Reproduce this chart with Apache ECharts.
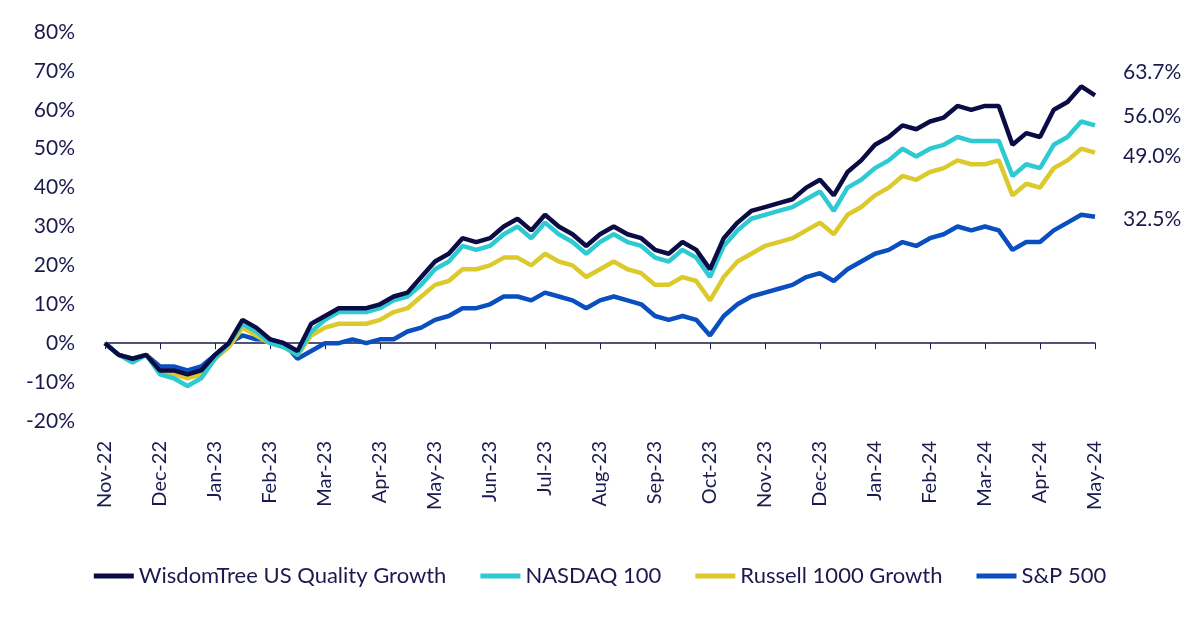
<!DOCTYPE html>
<html>
<head>
<meta charset="utf-8" />
<script src="https://cdn.jsdelivr.net/npm/echarts@6/dist/echarts.min.js"></script>
<style>
  html, body { margin: 0; background: #fff; }
  #chart { width: 1200px; height: 642px; }
</style>
</head>
<body>
<div id="chart"></div>
<script>
  // month tick labels, one every month
  var months = ['Nov-22', 'Dec-22', 'Jan-23', 'Feb-23', 'Mar-23', 'Apr-23', 'May-23', 'Jun-23', 'Jul-23',
    'Aug-23', 'Sep-23', 'Oct-23', 'Nov-23', 'Dec-23', 'Jan-24', 'Feb-24', 'Mar-24', 'Apr-24', 'May-24']

  // cumulative returns (%), sampled about weekly (4 points per month)
  var wisdomTree = [0, -3, -4, -3, -7, -7, -8, -7, -3, 0, 6, 4, 1, 0, -2, 5, 7, 9, 9, 9, 10, 12, 13, 17, 21, 23, 27, 26, 27, 30, 32, 29, 33, 30, 28, 25, 28, 30, 28, 27, 24, 23, 26, 24, 19, 27, 31, 34, 35, 36, 37, 40, 42, 38, 44, 47, 51, 53, 56, 55, 57, 58, 61, 60, 61, 61, 51, 54, 53, 60, 62, 66, 63.7]
  var nasdaq = [0, -3, -5, -3, -8, -9, -11, -9, -4, 0, 5, 3, 0, -1, -3, 3, 6, 8, 8, 8, 9, 11, 12, 15, 19, 21, 25, 24, 25, 28, 30, 27, 31, 28, 26, 23, 26, 28, 26, 25, 22, 21, 24, 22, 17, 25, 29, 32, 33, 34, 35, 37, 39, 34, 40, 42, 45, 47, 50, 48, 50, 51, 53, 52, 52, 52, 43, 46, 45, 51, 53, 57, 56]
  var russell = [0, -3, -4, -3, -7, -8, -9, -8, -4, -1, 4, 2, 0, -1, -3, 2, 4, 5, 5, 5, 6, 8, 9, 12, 15, 16, 19, 19, 20, 22, 22, 20, 23, 21, 20, 17, 19, 21, 19, 18, 15, 15, 17, 16, 11, 17, 21, 23, 25, 26, 27, 29, 31, 28, 33, 35, 38, 40, 43, 42, 44, 45, 47, 46, 46, 47, 38, 41, 40, 45, 47, 50, 49]
  var sp500 = [0, -3, -4, -3, -6, -6, -7, -6, -3, 0, 2, 1, 1, 0, -4, -2, 0, 0, 1, 0, 1, 1, 3, 4, 6, 7, 9, 9, 10, 12, 12, 11, 13, 12, 11, 9, 11, 12, 11, 10, 7, 6, 7, 6, 2, 7, 10, 12, 13, 14, 15, 17, 18, 16, 19, 21, 23, 24, 26, 25, 27, 28, 30, 29, 30, 29, 24, 26, 26, 29, 31, 33, 32.5]

  var names = ['WisdomTree US Quality Growth', 'NASDAQ 100', 'Russell 1000 Growth', 'S&P 500']
  var endLabels = ['63.7%', '56.0%', '49.0%', '32.5%']
  var colors = ['#0b0c45', '#2ecad3', '#dcc92c', '#0a4fbf']
  var labelShift = [-23, -9, 4, 2]

  function pairs(arr) {
    return arr.map(function (v, i) { return [i / 4, v] })
  }

  var txt = '#1a1a4e'
  var font = 'Lato'
  var series = [wisdomTree, nasdaq, russell, sp500].map(function (d, k) {
    return {
      name: names[k],
      type: 'line',
      data: pairs(d),
      showSymbol: false,
      z: 10 - k,
      lineStyle: { width: 4.5, color: colors[k] },
      itemStyle: { color: colors[k] },
      endLabel: {
        show: true,
        formatter: endLabels[k],
        color: txt,
        fontSize: 21,
        fontFamily: font,
        offset: [20, labelShift[k]]
      }
    }
  })

  var chart = echarts.init(document.getElementById('chart'))
  chart.setOption({
    animation: false,
    color: colors,
    textStyle: { fontFamily: font },
    grid: { left: 105, right: 105, top: 32, bottom: 221 },
    legend: {
      bottom: 50,
      left: 'center',
      itemWidth: 40,
      itemHeight: 5,
      itemGap: 34,
      icon: 'rect',
      textStyle: { color: txt, fontSize: 22, fontFamily: font },
      data: names
    },
    xAxis: [
      {
        type: 'value', min: 0, max: 18, interval: 1,
        axisLine: { onZero: true, lineStyle: { color: txt, width: 1.5 } },
        axisTick: { show: true, length: 6, lineStyle: { color: txt } },
        axisLabel: { show: false },
        splitLine: { show: false }
      },
      {
        type: 'value', min: 0, max: 18, interval: 1, position: 'bottom',
        axisLine: { show: false, onZero: false },
        axisTick: { show: false },
        splitLine: { show: false },
        axisLabel: {
          rotate: 90, margin: 20, color: txt, fontSize: 20, fontFamily: font,
          formatter: function (v) { return months[Math.round(v)] }
        }
      }
    ],
    yAxis: {
      type: 'value', min: -20, max: 80, interval: 10,
      axisLine: { show: false },
      axisTick: { show: false },
      splitLine: { show: false },
      axisLabel: { margin: 30, color: txt, fontSize: 21, fontFamily: font, formatter: '{value}%' }
    },
    series: series
  })
</script>
</body>
</html>
